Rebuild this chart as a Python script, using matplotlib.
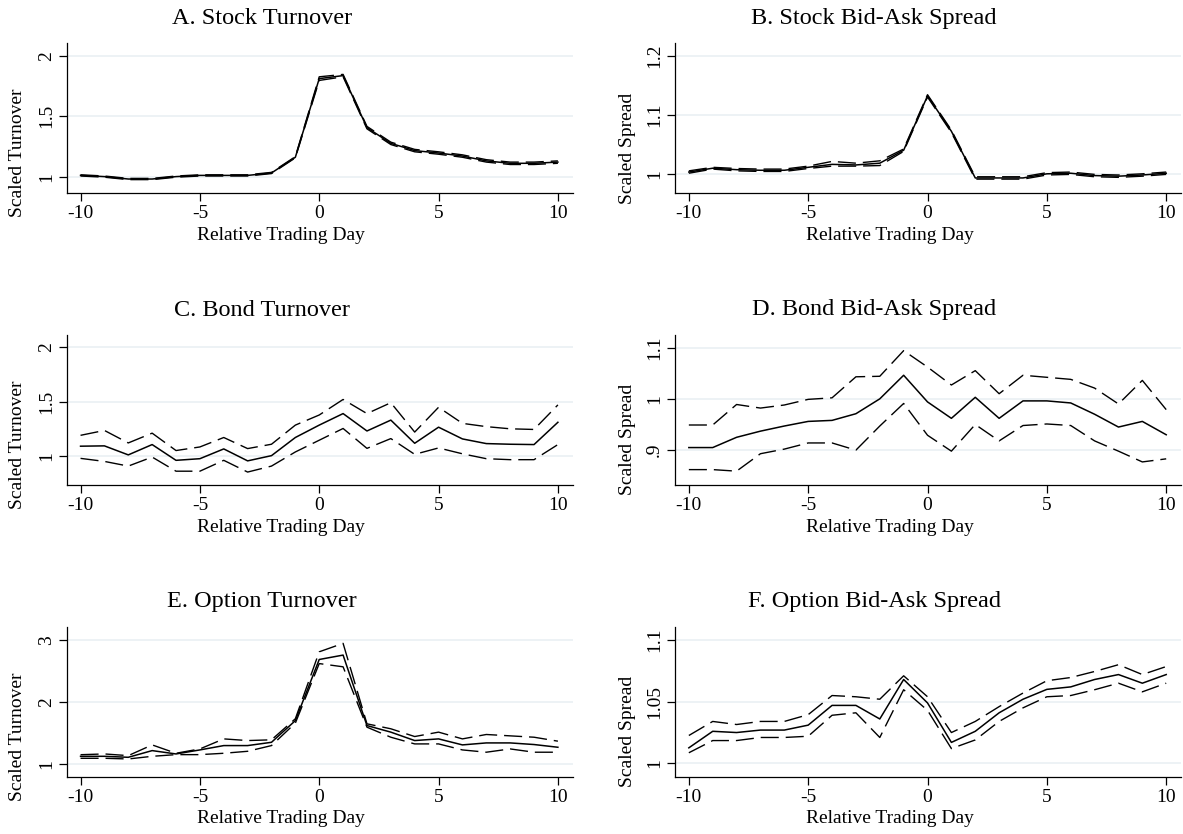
import matplotlib
matplotlib.use('Agg')
import matplotlib.pyplot as plt

plt.rcParams['font.family'] = ['Liberation Serif', 'DejaVu Serif']
plt.rcParams['lines.scale_dashes'] = False

days = list(range(-10, 11))

# event-window averages with upper / lower confidence bounds
stock_turn = [1.01, 1.00, 0.98, 0.98, 1.00, 1.01, 1.01, 1.01, 1.03, 1.16, 1.81,
              1.835, 1.405, 1.275, 1.215, 1.195, 1.17, 1.13, 1.11, 1.11, 1.12]
stock_turn_hi = [1.015, 1.005, 0.985, 0.985, 1.005, 1.015, 1.015, 1.015, 1.035, 1.165, 1.825,
                 1.845, 1.415, 1.285, 1.225, 1.205, 1.18, 1.14, 1.12, 1.12, 1.13]
stock_turn_lo = [1.005, 0.995, 0.975, 0.975, 0.995, 1.005, 1.005, 1.005, 1.025, 1.155, 1.795,
                 1.825, 1.395, 1.265, 1.205, 1.185, 1.16, 1.12, 1.10, 1.10, 1.11]

stock_spread = [1.003, 1.0095, 1.007, 1.006, 1.006, 1.011, 1.016, 1.015, 1.018, 1.04, 1.132,
                1.072, 0.993, 0.993, 0.993, 1.0, 1.001, 0.997, 0.996, 0.998, 1.001]
stock_spread_hi = [1.005, 1.011, 1.009, 1.008, 1.008, 1.013, 1.021, 1.018, 1.022, 1.042, 1.134,
                   1.074, 0.995, 0.995, 0.995, 1.002, 1.003, 0.999, 0.998, 1.0, 1.003]
stock_spread_lo = [1.001, 1.008, 1.005, 1.004, 1.004, 1.009, 1.013, 1.013, 1.014, 1.038, 1.130,
                   1.070, 0.991, 0.991, 0.991, 0.998, 0.999, 0.995, 0.994, 0.996, 0.999]

bond_turn = [1.09, 1.093, 1.01, 1.105, 0.96, 0.975, 1.065, 0.955, 1.003, 1.17, 1.284,
             1.39, 1.23, 1.33, 1.117, 1.265, 1.157, 1.114, 1.108, 1.105, 1.31]
bond_turn_hi = [1.19, 1.235, 1.12, 1.21, 1.05, 1.083, 1.17, 1.068, 1.108, 1.284, 1.377,
                1.52, 1.39, 1.49, 1.22, 1.448, 1.30, 1.27, 1.25, 1.244, 1.47]
bond_turn_lo = [0.978, 0.95, 0.907, 0.99, 0.86, 0.86, 0.96, 0.852, 0.907, 1.037, 1.145,
                1.253, 1.07, 1.16, 1.015, 1.074, 1.02, 0.975, 0.966, 0.966, 1.105]

bond_spread = [0.905, 0.905, 0.925, 0.937, 0.947, 0.956, 0.958, 0.971, 1.0, 1.046, 0.994,
               0.962, 1.003, 0.962, 0.996, 0.996, 0.992, 0.97, 0.945, 0.956, 0.93]
bond_spread_hi = [0.949, 0.949, 0.989, 0.982, 0.988, 0.999, 1.002, 1.043, 1.044, 1.094, 1.062,
                  1.027, 1.055, 1.01, 1.046, 1.042, 1.038, 1.021, 0.99, 1.036, 0.979]
bond_spread_lo = [0.862, 0.862, 0.859, 0.893, 0.902, 0.914, 0.914, 0.9, 0.947, 0.991, 0.929,
                  0.898, 0.95, 0.918, 0.948, 0.951, 0.948, 0.918, 0.898, 0.877, 0.883]

opt_turn = [1.124, 1.124, 1.108, 1.216, 1.162, 1.227, 1.297, 1.297, 1.35, 1.70, 2.686,
            2.757, 1.62, 1.514, 1.378, 1.405, 1.308, 1.34, 1.34, 1.314, 1.27]
opt_turn_hi = [1.15, 1.162, 1.135, 1.308, 1.173, 1.243, 1.405, 1.378, 1.39, 1.73, 2.81,
               2.946, 1.648, 1.568, 1.443, 1.514, 1.405, 1.476, 1.454, 1.432, 1.368]
opt_turn_lo = [1.092, 1.092, 1.081, 1.124, 1.151, 1.151, 1.173, 1.205, 1.297, 1.66, 2.62,
               2.568, 1.594, 1.432, 1.324, 1.324, 1.227, 1.19, 1.243, 1.19, 1.19]

opt_spread = [1.0126, 1.026, 1.025, 1.027, 1.027, 1.031, 1.047, 1.047, 1.036, 1.068, 1.049,
              1.017, 1.026, 1.041, 1.052, 1.060, 1.062, 1.068, 1.072, 1.065, 1.072]
opt_spread_hi = [1.0226, 1.034, 1.0315, 1.034, 1.034, 1.0395, 1.055, 1.054, 1.052, 1.071, 1.054,
                 1.025, 1.034, 1.046, 1.057, 1.067, 1.0696, 1.0745, 1.08, 1.072, 1.0785]
opt_spread_lo = [1.0086, 1.0185, 1.0185, 1.021, 1.021, 1.022, 1.039, 1.041, 1.021, 1.0597, 1.043,
                 1.012, 1.019, 1.034, 1.045, 1.054, 1.055, 1.0597, 1.065, 1.058, 1.065]

x_ticks = [-10, -5, 0, 5, 10]

panels = [
  ('A. Stock Turnover', 'Scaled Turnover', stock_turn, stock_turn_hi, stock_turn_lo,
   [1, 1.5, 2], ['1', '1.5', '2'], (0.862, 2.102)),
  ('B. Stock Bid-Ask Spread', 'Scaled Spread', stock_spread, stock_spread_hi, stock_spread_lo,
   [1, 1.1, 1.2], ['1', '1.1', '1.2'], (0.967, 1.221)),
  ('C. Bond Turnover', 'Scaled Turnover', bond_turn, bond_turn_hi, bond_turn_lo,
   [1, 1.5, 2], ['1', '1.5', '2'], (0.733, 2.113)),
  ('D. Bond Bid-Ask Spread', 'Scaled Spread', bond_spread, bond_spread_hi, bond_spread_lo,
   [0.9, 1, 1.1], ['.9', '1', '1.1'], (0.832, 1.1245)),
  ('E. Option Turnover', 'Scaled Turnover', opt_turn, opt_turn_hi, opt_turn_lo,
   [1, 2, 3], ['1', '2', '3'], (0.795, 3.215)),
  ('F. Option Bid-Ask Spread', 'Scaled Spread', opt_spread, opt_spread_hi, opt_spread_lo,
   [1, 1.05, 1.1], ['1', '1.05', '1.1'], (0.9892, 1.1108)),
]

W, H = 1183, 834
fig = plt.figure(figsize=(W / 100, H / 100), dpi=100)
fig.patch.set_facecolor('white')

# pixel layout of the 3x2 grid
col_left = [66.7, 675]
row_bottom = [193.3, 485, 776.7]
ax_w, ax_h = 506, 150
title_cx = [262, 874]
xlab_cx = [281, 890]
ylab_x = [18, 627]
ylab_cy = [153, 148]

for i, (title, ylab, mean, hi, lo, yt, ytl, ylim) in enumerate(panels):
  r, c = divmod(i, 2)
  left = col_left[c]
  bottom = row_bottom[r]
  ax = fig.add_axes([left / W, (H - bottom) / H, ax_w / W, ax_h / H])

  ax.plot(days, hi, color='black', lw=1.0, dashes=(13, 5))
  ax.plot(days, mean, color='black', lw=1.1)
  ax.plot(days, lo, color='black', lw=1.0, dashes=(13, 5))

  ax.set_xlim(-10.58, 10.62)
  ax.set_ylim(*ylim)
  ax.set_xticks(x_ticks)
  ax.set_xticklabels([str(t) for t in x_ticks])
  ax.set_yticks(yt)
  ax.set_yticklabels(ytl, rotation=90, va='center')

  # Stata-style light horizontal grid
  ax.grid(axis='y', color='#e8eff2', lw=1.1)
  ax.set_axisbelow(True)
  for side in ['top', 'right']:
    ax.spines[side].set_visible(False)
  for side in ['left', 'bottom']:
    ax.spines[side].set_linewidth(0.9)
  ax.tick_params(length=5.5, width=0.9, labelsize=14, pad=3)

  # titles and axis titles placed in figure pixels
  fig.text(title_cx[c] / W, (H - (bottom - 175)) / H, title,
           ha='center', va='center', fontsize=17.5)
  fig.text(xlab_cx[c] / W, (H - (bottom + 42)) / H, 'Relative Trading Day',
           ha='center', va='center', fontsize=14)
  fig.text(ylab_x[c] / W, (H - (bottom - 193.3 + ylab_cy[c])) / H, ylab,
           ha='center', va='center', rotation=90, fontsize=14)

fig.savefig('out.png', dpi=100)
